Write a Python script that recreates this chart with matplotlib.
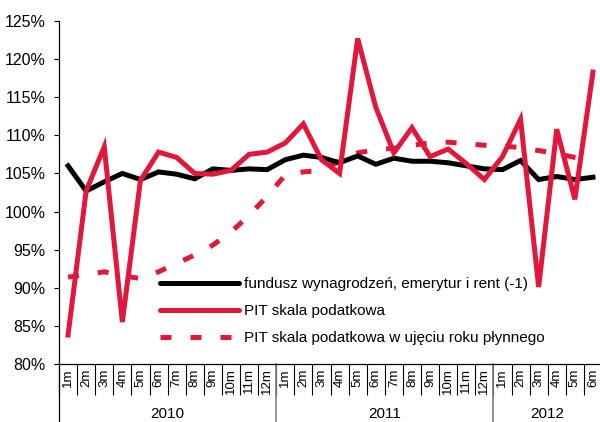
import matplotlib
matplotlib.use("Agg")
import matplotlib.pyplot as plt
import matplotlib.transforms as mtransforms
from matplotlib.lines import Line2D

# ─── data ────────────────────────────────────────────────────────────────────

MONTHS = [f"{m}m" for m in range(1, 13)] * 2 + [f"{m}m" for m in range(1, 7)]
YEARS = ["2010", "2011", "2012"]
YEAR_LEN = [12, 12, 6]

fundusz = [106.0, 102.7, 103.9, 105.0, 104.2, 105.2, 104.9, 104.3, 105.6, 105.4, 105.6, 105.5,
           106.8, 107.4, 107.1, 106.4, 107.3, 106.2, 107.0, 106.6, 106.6, 106.4, 106.0, 105.6,
           105.5, 106.7, 104.2, 104.6, 104.2, 104.5]
pit = [83.8, 102.7, 108.5, 85.5, 104.1, 107.8, 107.1, 105.0, 104.9, 105.4, 107.5, 107.8,
       109.0, 111.5, 106.8, 105.0, 122.7, 113.7, 107.7, 111.0, 107.2, 108.2, 106.3, 104.2,
       107.2, 112.1, 90.1, 110.8, 101.6, 118.3]
pit_roll = [91.4, 91.7, 92.1, 91.6, 91.2, 92.1, 93.2, 94.3, 95.6, 97.3, 99.5, 102.0,
            104.8, 105.2, 105.4, 106.6, 107.7, 108.1, 108.3, 108.7, 109.0, 109.1, 108.9, 108.7,
            108.6, 108.4, 108.0, 107.6, 107.1, 106.8]

LABELS = ["fundusz wynagrodzeń, emerytur i rent (-1)",
          "PIT skala podatkowa",
          "PIT skala podatkowa w ujęciu roku płynnego"]

RED = "#E3173B"

# ─── figure ──────────────────────────────────────────────────────────────────

plt.rcParams["font.family"] = ["Liberation Sans", "DejaVu Sans"]
fig = plt.figure(figsize=(6.0, 4.22), dpi=100, facecolor="white")
W, H = 600, 422
ax = fig.add_axes([59 / W, (H - 364) / H, 543 / W, 343 / H])

x = list(range(len(MONTHS)))
ax.plot(x, fundusz, color="black", lw=3.6, solid_joinstyle="miter", zorder=3)
ax.plot(x, pit, color=RED, lw=3.6, solid_joinstyle="miter", zorder=4)
ax.plot(x, pit_roll, color=RED, lw=3.6, linestyle=(0, (2.2, 3.8)),
        dash_capstyle="butt", zorder=2)

ax.set_xlim(-0.5, len(MONTHS) - 0.5)
ax.set_ylim(80, 125)
ax.set_yticks(range(80, 126, 5))
ax.set_yticklabels([f"{v}%" for v in range(80, 126, 5)], fontsize=11.5)
ax.tick_params(axis="y", direction="out", length=3.6, width=0.8, pad=6)

ax.set_xticks(x)
ax.set_xticklabels(MONTHS, rotation=90, fontsize=9.5, va="top")
ax.tick_params(axis="x", which="major", length=0, pad=3)
ax.set_xticks([i - 0.5 for i in range(len(MONTHS) + 1)], minor=True)
ax.tick_params(axis="x", which="minor", direction="out", length=22, width=0.8)

for side in ("top", "right"):
    ax.spines[side].set_visible(False)
for side in ("left", "bottom"):
    ax.spines[side].set_linewidth(0.9)

# year separators and labels
trans = mtransforms.blended_transform_factory(ax.transData, ax.transAxes)
drop = -58 / 343
ax.plot([-0.5, -0.5], [0, drop], color="black", lw=0.9, transform=trans, clip_on=False)
start = 0
for year, n in zip(YEARS, YEAR_LEN):
    ax.text(start + (n - 1) / 2, -50 / 343, year, transform=trans,
            ha="center", va="center", fontsize=11)
    start += n
    if start < len(MONTHS):
        ax.plot([start - 0.5, start - 0.5], [0, drop], color="#808080", lw=1.2,
                transform=trans, clip_on=False)

# legend
handles = [Line2D([], [], color="black", lw=3.6, solid_capstyle="round"),
           Line2D([], [], color=RED, lw=3.6, solid_capstyle="round"),
           Line2D([], [], color=RED, lw=3.6, linestyle=(0, (2.2, 3.8)))]
fig.legend(handles, LABELS, loc="upper left", bbox_to_anchor=(160 / W, 1 - 277 / H),
           frameon=False, borderpad=0, borderaxespad=0, handlelength=5.2,
           handletextpad=0.3, labelspacing=0.86, prop={"size": 11})

fig.savefig("out.png", dpi=100, facecolor="white")
